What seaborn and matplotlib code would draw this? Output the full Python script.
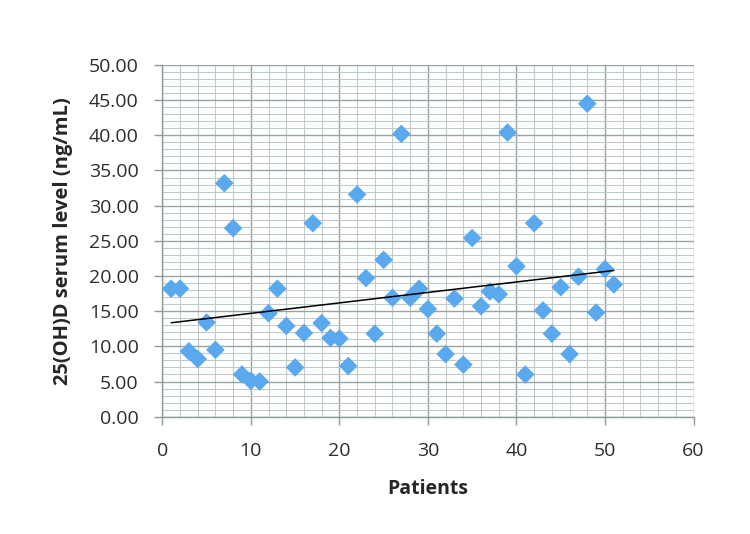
"""Scatter of 25(OH)D serum level per patient with linear trend line."""
import numpy as np
import pandas as pd
import matplotlib
matplotlib.use('Agg')
import matplotlib.pyplot as plt
from matplotlib.ticker import MultipleLocator, FormatStrFormatter
import seaborn as sns

patients = list(range(1, 52))
serum_level = [
    18.2, 18.2, 9.3, 8.2, 13.4, 9.5, 33.2, 26.8, 6.0, 5.1,
    5.0, 14.7, 18.2, 12.9, 7.0, 11.9, 27.5, 13.3, 11.2, 11.1,
    7.2, 31.6, 19.7, 11.8, 22.3, 16.9, 40.2, 16.9, 18.2, 15.3,
    11.8, 8.9, 16.8, 7.4, 25.4, 15.7, 17.8, 17.4, 40.4, 21.4,
    6.0, 27.5, 15.1, 11.8, 18.4, 8.9, 19.9, 44.5, 14.8, 21.0,
    18.8,
]
x_ticks = [0, 10, 20, 30, 40, 50, 60]
y_ticks = [0, 5, 10, 15, 20, 25, 30, 35, 40, 45, 50]

df = pd.DataFrame({'patient': patients, 'level': serum_level})

sns.set_style('white')
plt.rcParams['font.family'] = ['Open Sans', 'DejaVu Sans']

fig = plt.figure(figsize=(7.5, 5.34), dpi=100)
ax = fig.add_axes([0.2164, 0.2197, 0.7083, 0.6586])

# grid: major every 10 / 5, minor every 2 / 1
ax.set_xlim(x_ticks[0], x_ticks[-1])
ax.set_ylim(y_ticks[0], y_ticks[-1])
ax.set_xticks(x_ticks)
ax.set_yticks(y_ticks)
ax.xaxis.set_minor_locator(MultipleLocator(2))
ax.yaxis.set_minor_locator(MultipleLocator(1))
ax.yaxis.set_major_formatter(FormatStrFormatter('%.2f'))
ax.grid(which='major', color='#97a6a3', linewidth=1.0)
ax.grid(which='minor', color='#c0cbc9', linewidth=0.8)
ax.set_axisbelow(True)

sns.scatterplot(data=df, x='patient', y='level', marker='D', s=90,
                color='#5aa9ef', edgecolor='none', ax=ax, zorder=3)

# linear trend line
slope, intercept = np.polyfit(df['patient'], df['level'], 1)
xs = np.array([df['patient'].min(), df['patient'].max()])
ax.plot(xs, slope * xs + intercept, color='black', linewidth=1.1, zorder=4)

for side in ['top', 'right']:
    ax.spines[side].set_visible(False)
for side in ['left', 'bottom']:
    ax.spines[side].set_color('#8e9a98')
    ax.spines[side].set_linewidth(1.0)

ax.tick_params(which='major', direction='out', length=6, width=1.0,
               color='#8e9a98', labelsize=14, labelcolor='#2e2e2e',
               left=True, bottom=True)
ax.tick_params(which='minor', length=0)
ax.tick_params(axis='x', pad=12)
ax.tick_params(axis='y', pad=11)

ax.set_xlabel('Patients', fontsize=14, fontweight='bold', labelpad=14)
ax.set_ylabel('25(OH)D serum level (ng/mL)', fontsize=14.5,
              fontweight='bold', labelpad=11)

fig.savefig('out.png', dpi=100)
